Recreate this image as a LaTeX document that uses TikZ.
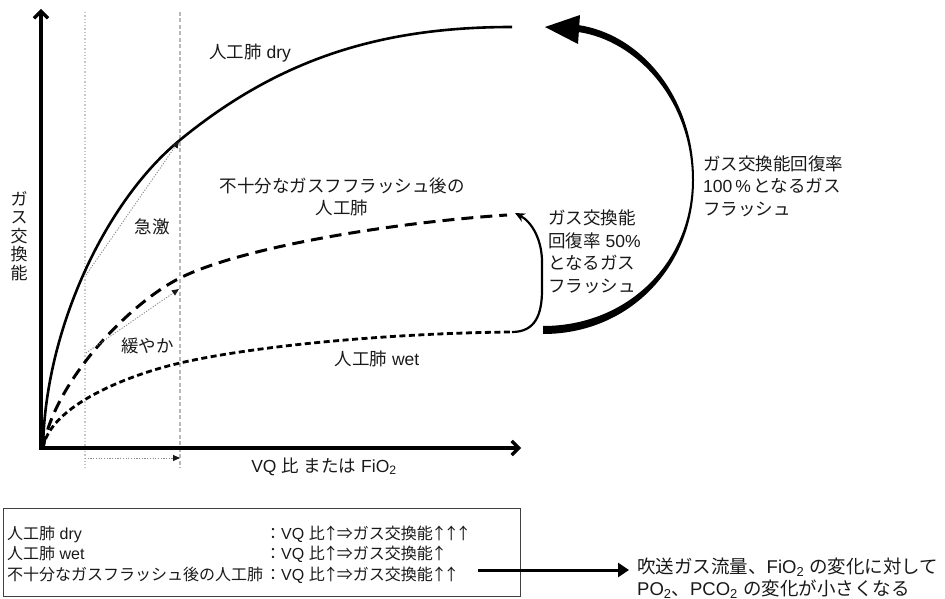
\documentclass[tikz,border=0pt]{standalone}
\usepackage{fontspec}
\setmainfont{Liberation Sans}
\newfontfamily\jp{Noto Sans CJK JP}
\newcommand\J[1]{{\jp #1}}
\newcommand\Sb[1]{\textsubscript{#1}}
\newcommand\UpA{\kern-1.9pt{\jp ↑}\kern-1.9pt}
\usetikzlibrary{arrows.meta}
\begin{document}
\begin{tikzpicture}[x=1pt,y=-1pt,
 every node/.style={inner sep=0pt, text=black!90},
 chart/.style={font=\fontsize{17.5}{21}\selectfont},
 side/.style={font=\fontsize{17.5}{21}\selectfont, anchor=base west},
 legend/.style={font=\fontsize{16}{20}\selectfont, anchor=base west},
 note/.style={font=\fontsize{18.5}{22}\selectfont, anchor=base west},
 axis/.style={line width=3.3pt, -{Straight Barb[length=7pt,width=14pt]}},
 guidedot/.style={draw=black!22, line width=1.3pt, dash pattern=on 1.3pt off 2pt},
 guidedash/.style={draw=black!28, line width=1.8pt, dash pattern=on 4pt off 2.5pt},
 slope/.style={draw=black!45, line width=0.9pt, dash pattern=on 1.2pt off 1.5pt, -{Triangle[length=7pt,width=6pt,color=black!90]}},
 dry/.style={line width=2.6pt},
 half/.style={line width=3pt, dash pattern=on 12pt off 7pt},
 wet/.style={line width=2.8pt, dash pattern=on 6pt off 3.5pt},
]
\useasboundingbox (0,0) rectangle (945,599);

% guide lines
\coordinate (v1t) at (85,12); \coordinate (v1b) at (85,468);
\coordinate (v2t) at (180,12); \coordinate (v2b) at (180,468);
\draw[guidedot] (v1t) -- (v1b);
\draw[guidedash] (v2t) -- (v2b);

% axes
\coordinate (O) at (41,448);
\coordinate (ytop) at (41,9);
\coordinate (xend) at (521,448);
\draw[axis] (41,449.6) -- (ytop);
\draw[axis] (39.4,448) -- (xend);

% curves
\coordinate (C) at (43,448);
\coordinate (dryend) at (512,27);
\coordinate (halfend) at (507,215);
\coordinate (wetend) at (512,332);
\draw[dry] (C) .. controls (45,330) and (105,201.5) .. (180,140) .. controls (280,58) and (382,27) .. (dryend);
\draw[half] (C) .. controls (55,380) and (130,303) .. (180,278) .. controls (240,248) and (387,223) .. (halfend);
\draw[wet] (C) .. controls (50,405) and (130,374.5) .. (180,363) .. controls (260,344.6) and (400,333) .. (wetend);

% slope arrows
\coordinate (g1s) at (86,275); \coordinate (g1e) at (179,141);
\coordinate (g2s) at (86,353); \coordinate (g2e) at (179,289);
\coordinate (g3s) at (85,458); \coordinate (g3e) at (180,458);
\draw[slope] (g1s) -- (g1e);
\draw[slope] (g2s) -- (g2e);
\draw[slope] (g3s) -- (g3e);

% small flush arrow (50%)
\coordinate (smalltip) at (515,213);
\draw[line width=2.2pt, -{Stealth[length=10pt,width=9pt]}] (wetend) .. controls (535,332) and (542,315) .. (542,290) -- (542,262) .. controls (542,240) and (532,222) .. (smalltip);

% big flush arrow (100%)
\coordinate (bigtip) at (545,27);
\fill (543,334) .. controls (630,334) and (694,266) .. (694,180) .. controls (694,96) and (640,34) .. (578,25) -- (578,32) .. controls (636,40) and (692,100) .. (692,180) .. controls (692,262) and (628,326) .. (543,326) -- cycle;
\fill (bigtip) -- (580,15) -- (578,44) -- cycle;

% chart labels
\node[chart, anchor=base] (ldry) at (250,59) {\J{人工肺} dry};
\node[chart, anchor=base] (lhalf1) at (342,192) {\J{不十分なガスフフラッシュ後の}};
\node[chart, anchor=base] (lhalf2) at (342,214) {\J{人工肺}};
\node[chart, anchor=base] (lwet) at (377,365) {\J{人工肺} wet};
\node[chart, anchor=base] (lsteep) at (152,233) {\J{急激}};
\node[chart, anchor=base] (lgentle) at (147.5,352) {\J{緩やか}};
\node[chart, anchor=base] (lx) at (324,472) {VQ \J{比} \J{または} FiO\Sb{2}};
\node[font=\fontsize{17}{18.5}\selectfont, align=center, anchor=center] (ly) at (19,236) {\J{ガ}\\\J{ス}\\\J{交}\\\J{換}\\\J{能}};

% side labels
\node[side] (a1) at (548,224) {\J{ガス交換能}};
\node[side] (a2) at (548,247) {\J{回復率} 50\%};
\node[side] (a3) at (548,269) {\J{となるガス}};
\node[side] (a4) at (548,292) {\J{フラッシュ}};
\node[side] (b1) at (703,170) {\J{ガス交換能回復率}};
\node[side] (b2) at (703,193) {100\,\%\,\J{となるガス}};
\node[side] (b3) at (703,215) {\J{フラッシュ}};

% legend box
\draw[draw=black!75, line width=1pt] (3,508) rectangle (520,596);
\node[legend] (k1) at (7,539) {\J{人工肺} dry};
\node[legend] (k2) at (7,559.5) {\J{人工肺} wet};
\node[legend] (k3) at (7,580) {\J{不十分なガスフラッシュ後の人工肺}};
\node[legend] (r1) at (265,539) {\J{：}VQ \J{比}\UpA\J{⇒ガス交換能}\UpA\UpA\UpA};
\node[legend] (r2) at (265,559.5) {\J{：}VQ \J{比}\UpA\J{⇒ガス交換能}\UpA};
\node[legend] (r3) at (265,580) {\J{：}VQ \J{比}\UpA\J{⇒ガス交換能}\UpA\UpA};

% result arrow and note
\coordinate (rs) at (478,570);
\coordinate (re) at (629,570);
\draw[line width=3pt, -{Triangle[length=11pt,width=14pt]}] (rs) -- (re);
\node[note] (n1) at (637,573) {\J{吹送ガス流量、}FiO\Sb{2} \J{の変化に対して}};
\node[note] (n2) at (637,595) {PO\Sb{2}\J{、}PCO\Sb{2} \J{の変化が小さくなる}};
\end{tikzpicture}
\end{document}
